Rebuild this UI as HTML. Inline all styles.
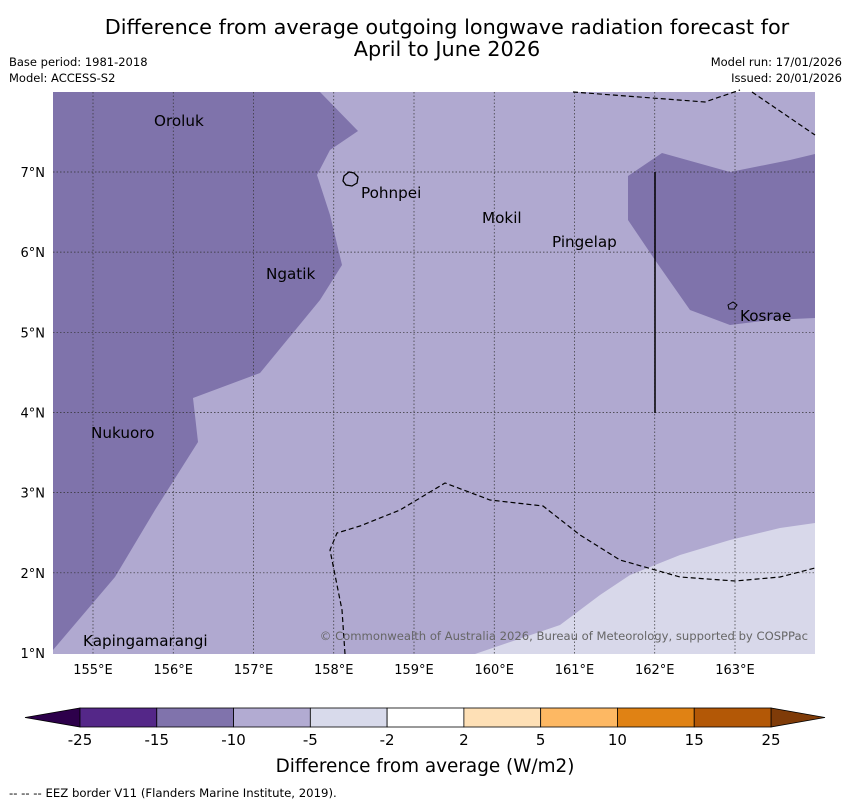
<!DOCTYPE html>
<html><head><meta charset="utf-8"><style>
body{margin:0;background:#fff;width:850px;height:804px;overflow:hidden;font-family:"DejaVu Sans","Liberation Sans",sans-serif}
svg{position:absolute;left:0;top:0}
</style></head><body>
<svg width="850" height="804" font-family="DejaVu Sans, Liberation Sans, sans-serif">
<text x="447" y="34" font-size="20.8" text-anchor="middle">Difference from average outgoing longwave radiation forecast for</text>
<text x="447" y="56" font-size="20.8" text-anchor="middle">April to June 2026</text>
<text x="9" y="66" font-size="11.5">Base period: 1981-2018</text>
<text x="9" y="82" font-size="11.5">Model: ACCESS-S2</text>
<text x="842" y="66" font-size="11.5" text-anchor="end">Model run: 17/01/2026</text>
<text x="842" y="82" font-size="11.5" text-anchor="end">Issued: 20/01/2026</text>
<g>
<rect x="53" y="92" width="762" height="562" fill="#b0a9d0"/>
<polygon fill="#7f73ab" points="53,92 320,92 358,131 330,150 317,175 330,215 342,265 320,300 260,373 193,398 198,442 155,510 115,577 53,650"/>
<polygon fill="#7f73ab" points="628,176 662,153 730,172 790,160 815,154 815,318 770,320 730,325 690,310 655,260 628,220"/>
<polygon fill="#d8d8ea" points="475,654 560,625 600,595 630,575 680,555 730,540 780,528 815,523 815,654"/>
<g stroke="#333" stroke-width="0.7" stroke-dasharray="1.5,2" id="grid"></g>
<polyline fill="none" stroke="#000" stroke-width="1.2" stroke-dasharray="5,3" points="573,92 705,102 740,90"/>
<polyline fill="none" stroke="#000" stroke-width="1.2" stroke-dasharray="5,3" points="752,92 815,135"/>
<polyline fill="none" stroke="#000" stroke-width="1.2" stroke-dasharray="5,3" points="345,654 342,610 330,550 337,533 360,526 400,510 445,483 490,500 543,506 580,535 620,560 680,577 735,581 780,577 815,568"/>
<line x1="655" y1="172" x2="655" y2="413" stroke="#000" stroke-width="1.5"/>
<path d="M344,176 l5,-4 5,1 4,4 -1,6 -5,3 -6,-1 -3,-4z" fill="none" stroke="#000" stroke-width="1.3"/>
<path d="M728,305 l5,-3 4,3 -3,4 -5,0z" fill="none" stroke="#000" stroke-width="1"/>
<g font-size="15.2" fill="#000">
<text x="154" y="126">Oroluk</text>
<text x="361" y="198">Pohnpei</text>
<text x="482" y="223">Mokil</text>
<text x="552" y="247">Pingelap</text>
<text x="266" y="279">Ngatik</text>
<text x="740" y="321">Kosrae</text>
<text x="91" y="438">Nukuoro</text>
<text x="83" y="646">Kapingamarangi</text>
</g>
<text x="808" y="640" font-size="11.6" fill="#666" text-anchor="end">© Commonwealth of Australia 2026, Bureau of Meteorology, supported by COSPPac</text>
</g>
<g id="axes" font-size="13"></g>
<g id="cbar"></g>
<text x="425" y="772" font-size="18.4" text-anchor="middle">Difference from average (W/m2)</text>
<text x="9" y="797" font-size="11.7">--  --  -- EEZ border V11 (Flanders Marine Institute, 2019).</text>
</svg>
<script>
const lons=[155,156,157,158,159,160,161,162,163];
const lats=[1,2,3,4,5,6,7];
const cbTicks=["-25","-15","-10","-5","-2","2","5","10","15","25"];
const cbColors=["#542788","#8073ac","#b2abd2","#d8daeb","#ffffff","#fee0b6","#fdb863","#e08214","#b35806"];
const NS="http://www.w3.org/2000/svg";
const xOf=l=>93+(l-155)*80.25, yOf=t=>653-(t-1)*80.17;
function mk(tag,attrs,parent){const e=document.createElementNS(NS,tag);for(const k in attrs)e.setAttribute(k,attrs[k]);parent.appendChild(e);return e;}
const grid=document.getElementById('grid'), axes=document.getElementById('axes'), cb=document.getElementById('cbar');
lons.forEach(l=>{
 const ln=mk('line',{x1:xOf(l),x2:xOf(l),y1:92,y2:654},grid);
 
 
 const t=mk('text',{x:xOf(l),y:674,'text-anchor':'middle'},axes);t.textContent=l+"°E";
 
 
});
lats.forEach(l=>{
 if(l>1){const ln=mk('line',{x1:53,x2:815,y1:yOf(l),y2:yOf(l)},grid);
 
 }
 const t=mk('text',{x:45,y:yOf(l)+5,'text-anchor':'end'},axes);t.textContent=l+"°N";
 
 
});
const x0=80,x1=771,seg=(x1-x0)/cbColors.length,cy=708,ch=19;
const lt=mk('polygon',{points:`${x0},${cy} ${x0},${cy+ch} 25,${cy+ch/2}`,fill:'#2d004b',stroke:'#000','stroke-width':0.8},cb);


const rt=mk('polygon',{points:`${x1},${cy} ${x1},${cy+ch} 825,${cy+ch/2}`,fill:'#7f3b08',stroke:'#000','stroke-width':0.8},cb);


cbColors.forEach((c,i)=>{
 const r=mk('rect',{x:x0+i*seg,y:cy,width:seg,height:ch,fill:c,stroke:'#000','stroke-width':0.8},cb);
 
 
});
cbTicks.forEach((s,i)=>{
 const t=mk('text',{x:x0+i*seg,y:745,'text-anchor':'middle','font-size':15},cb);t.textContent=s;
 
 
});
</script>
</body></html>
